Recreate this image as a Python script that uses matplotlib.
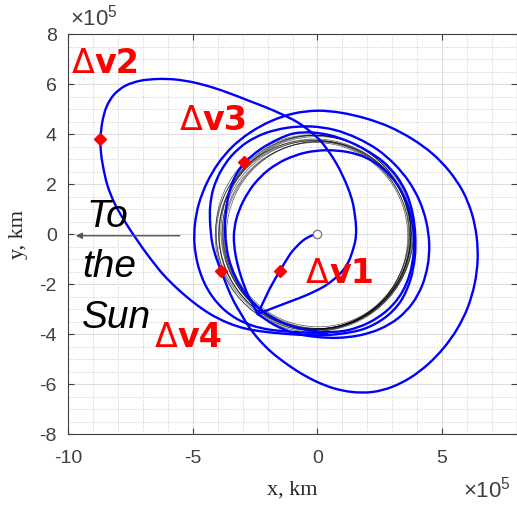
import numpy as np
import matplotlib.pyplot as plt
from matplotlib.patches import Ellipse, PathPatch
from matplotlib.path import Path
from matplotlib.ticker import MultipleLocator

plt.rcParams['font.family'] = ['Liberation Sans', 'DejaVu Sans']
plt.rcParams['mathtext.fontset'] = 'custom'
plt.rcParams['mathtext.rm'] = 'Liberation Sans'
plt.rcParams['axes.unicode_minus'] = False

# trajectory waypoints, units of 1e5 km
seg_launch = [(0, 0), (-0.25, -0.07), (-0.59, -0.27), (-0.99, -0.67), (-1.25, -1.05),
              (-1.5, -1.47), (-1.92, -2.2), (-2.39, -3.2)]
seg_loop = [(-2.39, -3.2), (-1.75, -2.95), (-1.12, -2.71), (-0.45, -2.45), (0.21, -2.13),
            (0.65, -1.82), (1.01, -1.47), (1.25, -1.1), (1.41, -0.67), (1.52, -0.25),
            (1.55, 0.2), (1.5, 0.75), (1.41, 1.27), (1.24, 1.8), (1.01, 2.33), (0.76, 2.82),
            (0.45, 3.3), (0.1, 3.75), (-0.35, 4.15), (-0.85, 4.5), (-1.45, 4.8),
            (-2.1, 5.08), (-2.8, 5.35), (-3.5, 5.62), (-4.2, 5.86), (-4.95, 6.06),
            (-5.7, 6.18), (-6.4, 6.2), (-7.1, 6.13), (-7.7, 5.93), (-8.15, 5.58),
            (-8.45, 5.1), (-8.62, 4.5), (-8.7, 3.8), (-8.68, 3.3), (-8.6, 2.73),
            (-8.42, 1.95), (-8.12, 1.2), (-7.72, 0.5), (-7.26, -0.2), (-6.76, -0.9),
            (-6.2, -1.6), (-5.6, -2.2), (-4.95, -2.75), (-4.3, -3.2), (-3.6, -3.55),
            (-2.9, -3.78), (-2.2, -3.9), (-1.19, -4.0), (-0.12, -4.05), (0.85, -4.0),
            (1.85, -3.8), (2.7, -3.35), (3.33, -2.7), (3.72, -1.85), (3.9, -0.95),
            (3.92, -0.05), (3.82, 0.8), (3.58, 1.6), (3.18, 2.3), (2.62, 2.9),
            (1.95, 3.35), (1.25, 3.7), (0.5, 3.95), (-0.25, 4.06), (-0.95, 4.02),
            (-1.6, 3.78), (-2.3, 3.38), (-2.93, 2.87)]
seg_inner = [(-2.93, 2.87), (-3.3, 2.3), (-3.55, 1.6), (-3.68, 0.8), (-3.7, 0.0),
             (-3.58, -0.9), (-3.28, -1.75), (-2.8, -2.5), (-2.2, -3.08), (-1.45, -3.52),
             (-0.6, -3.8), (0.3, -3.92), (1.2, -3.85), (2.05, -3.55), (2.8, -3.05),
             (3.35, -2.4), (3.7, -1.6), (3.86, -0.7), (3.83, 0.3), (3.6, 1.2), (3.2, 1.98),
             (2.62, 2.62), (1.95, 3.05), (1.2, 3.28), (0.35, 3.35), (-0.5, 3.25),
             (-1.3, 2.97), (-1.98, 2.55), (-2.55, 1.98), (-2.98, 1.3), (-3.25, 0.6),
             (-3.35, -0.1), (-3.28, -0.85), (-3.08, -1.65), (-2.78, -2.45), (-2.39, -3.2)]
seg_phase = [(-2.39, -3.2), (-1.7, -3.65), (-0.9, -3.97), (0.0, -4.12), (0.85, -4.15),
             (1.7, -4.05), (2.5, -3.8), (3.22, -3.38), (3.8, -2.78), (4.2, -2.05),
             (4.42, -1.25), (4.48, -0.4), (4.36, 0.5), (4.08, 1.35), (3.65, 2.12),
             (3.08, 2.8), (2.4, 3.38), (1.6, 3.83), (0.7, 4.16), (-0.25, 4.3),
             (-1.2, 4.25), (-2.1, 4.03), (-2.85, 3.65), (-3.45, 3.12), (-3.88, 2.5),
             (-4.17, 1.82), (-4.3, 1.1), (-4.3, 0.4), (-4.22, -0.35), (-4.06, -0.95),
             (-3.86, -1.47)]
seg_final = [(-3.86, -1.47), (-3.62, -2.1), (-3.36, -2.68), (-3.06, -3.2), (-2.72, -3.75),
             (-2.32, -4.25), (-1.85, -4.72), (-1.3, -5.15), (-0.7, -5.55), (-0.05, -5.9),
             (0.65, -6.17), (1.4, -6.32), (2.2, -6.32), (2.98, -6.12), (3.72, -5.75),
             (4.42, -5.22), (5.05, -4.57), (5.6, -3.8), (6.02, -2.95), (6.3, -2.0),
             (6.42, -1.05), (6.38, -0.1), (6.18, 0.85), (5.82, 1.72), (5.28, 2.52),
             (4.6, 3.22), (3.8, 3.8), (2.9, 4.28), (1.95, 4.62), (0.95, 4.85),
             (0.0, 4.93), (-0.95, 4.82), (-1.85, 4.52), (-2.68, 4.07), (-3.4, 3.5),
             (-3.98, 2.82), (-4.43, 2.05), (-4.75, 1.22), (-4.91, 0.4), (-4.93, -0.4),
             (-4.8, -1.2), (-4.55, -1.92), (-4.2, -2.52), (-3.75, -3.02), (-3.22, -3.4),
             (-2.62, -3.66), (-1.95, -3.82), (-1.2, -3.9), (-0.4, -3.95), (0.4, -3.95)]
segments = [seg_launch, seg_loop, seg_inner, seg_phase, seg_final]

# lunar orbit revolutions (centre, semi-axes, tilt)
moon_cx = [-0.10, -0.05, 0.00, -0.18, -0.08, 0.02, -0.14, -0.03, -0.22, 0.05, -0.06, -0.12]
moon_cy = [0.00, 0.05, -0.05, 0.02, -0.08, 0.08, 0.04, -0.02, -0.04, 0.00, 0.06, -0.06]
moon_a = [3.85, 3.92, 3.76, 3.94, 3.74, 3.88, 3.97, 3.80, 3.88, 3.72, 3.9, 3.83]
moon_b = [3.80, 3.84, 3.72, 3.86, 3.70, 3.80, 3.89, 3.76, 3.80, 3.69, 3.8, 3.77]
moon_ang = [0, 20, 45, 70, 95, 120, 140, 160, 10, 60, 110, 150]

# manoeuvres
dv_x = [-1.5, -8.7, -2.93, -3.86]
dv_y = [-1.47, 3.8, 2.87, -1.47]
dv_names = ['v1', 'v2', 'v3', 'v4']
dv_lab_x = [-0.45, -9.85, -5.53, -6.53]
dv_lab_y = [-1.93, 6.47, 4.2, -4.47]

xticks = [-10, -5, 0, 5]
yticks = [-8, -6, -4, -2, 0, 2, 4, 6, 8]


def smooth_path(pts):
    # cubic Bezier path through the waypoints, drawn by matplotlib
    p = np.asarray(pts, dtype=float)
    verts = [p[0]]
    codes = [Path.MOVETO]
    for i in range(len(p) - 1):
        a = p[i - 1] if i > 0 else p[i]
        d = p[i + 2] if i + 2 < len(p) else p[i + 1]
        verts += [p[i] + (p[i + 1] - a) / 6, p[i + 1] - (d - p[i]) / 6, p[i + 1]]
        codes += [Path.CURVE4] * 3
    return Path(verts, codes)


fig = plt.figure(figsize=(5.17, 5.10), dpi=100)
ax = fig.add_axes([68 / 517, 75 / 510, 449 / 517, 400 / 510])

for cx, cy, a, b, ang in zip(moon_cx, moon_cy, moon_a, moon_b, moon_ang):
    ax.add_patch(Ellipse((cx, cy), 2 * a, 2 * b, angle=ang, fill=False,
                         ec='black', lw=0.55, alpha=0.6, zorder=2))

for seg in segments:
    ax.add_patch(PathPatch(smooth_path(seg), fill=False, ec='#0000ff', lw=1.7,
                           capstyle='round', joinstyle='round', zorder=3))

ax.plot([0], [0], 'o', ms=6, mfc='white', mec='#808080', mew=1, zorder=5)
ax.plot(dv_x, dv_y, 'D', color='red', ms=6, zorder=6)

for name, lx, ly in zip(dv_names, dv_lab_x, dv_lab_y):
    t = ax.text(lx, ly, '\u0394', color='red', fontsize=24, va='baseline',
                family='DejaVu Sans', zorder=7)
    ax.annotate(name, xy=(1, 0), xycoords=t, va='bottom', ha='left', color='red',
                fontsize=24, fontweight='bold', family='DejaVu Sans', zorder=7)

ax.annotate('', xy=(-9.8, -0.07), xytext=(-5.41, -0.07),
            arrowprops=dict(arrowstyle='-|>', color='#555555', lw=1, mutation_scale=9))
ax.text(-9.27, 0.32, 'To', fontsize=28, style='italic', va='baseline')
ax.text(-9.43, -1.68, 'the', fontsize=28, style='italic', va='baseline')
ax.text(-9.43, -3.72, 'Sun', fontsize=28, style='italic', va='baseline')

ax.set_xlim(-10, 8)
ax.set_ylim(-8, 8)
ax.set_xticks(xticks)
ax.set_yticks(yticks)
ax.xaxis.set_minor_locator(MultipleLocator(1))
ax.yaxis.set_minor_locator(MultipleLocator(0.5))
ax.grid(which='major', color='#dddddd', lw=0.8)
ax.grid(which='minor', color='#cccccc', ls=':', lw=0.7)
ax.set_axisbelow(True)
ax.tick_params(which='major', direction='in', length=4, top=True, right=True,
               labelsize=14, colors='#404040')
ax.tick_params(axis='x', pad=11)
ax.tick_params(axis='y', pad=8)
ax.tick_params(which='minor', length=0)
for s in ax.spines.values():
    s.set_color('#404040')
    s.set_linewidth(0.8)

fig.text(292 / 517, 1 - 490 / 510, 'x, km', ha='center', va='center',
         family='Liberation Serif', fontsize=16, color='#262626')
fig.text(18 / 517, 1 - 235 / 510, 'y, km', ha='center', va='center', rotation=90,
         family='Liberation Serif', fontsize=16, color='#262626')
fig.text(70 / 517, 1 - 18 / 510, r'$\times\mathregular{10^5}$', ha='left', va='center',
         fontsize=16, color='#404040')
fig.text(463 / 517, 1 - 490 / 510, r'$\times\mathregular{10^5}$', ha='left', va='center',
         fontsize=16, color='#404040')

fig.savefig('out.png', dpi=100)
